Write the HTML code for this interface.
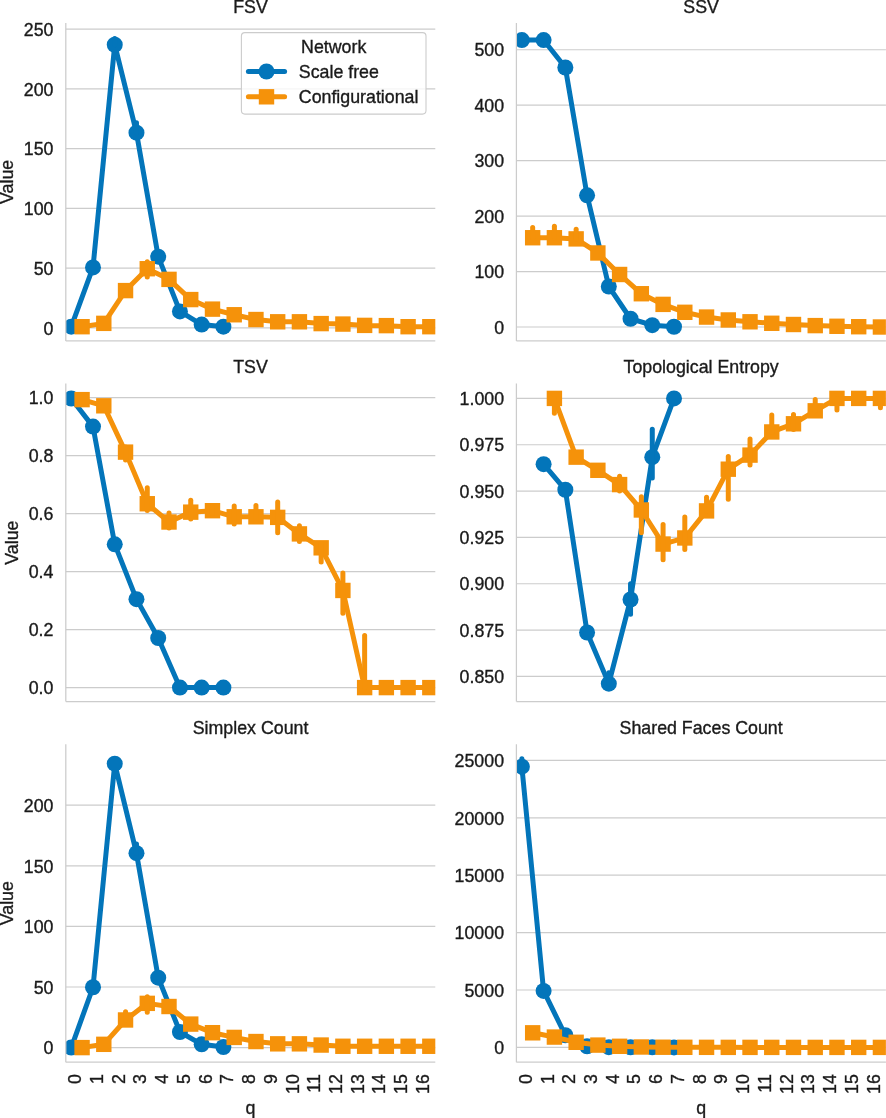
<!DOCTYPE html><html><head><meta charset="utf-8"><style>html,body{margin:0;padding:0;background:#fff;}svg{display:block;will-change:transform;}text{font-family:"Liberation Sans",sans-serif;fill:#1a1a1a;stroke:#1a1a1a;stroke-width:0.35px;}</style></head><body>
<svg width="886" height="1118" viewBox="0 0 886 1118">
<rect width="886" height="1118" fill="#fff"/>
<defs>
<clipPath id="c0"><rect x="65.80" y="22.90" width="369.50" height="318.00"/></clipPath>
<clipPath id="c1"><rect x="516.40" y="22.90" width="369.50" height="318.00"/></clipPath>
<clipPath id="c2"><rect x="65.80" y="383.60" width="369.50" height="318.00"/></clipPath>
<clipPath id="c3"><rect x="516.40" y="383.60" width="369.50" height="318.00"/></clipPath>
<clipPath id="c4"><rect x="65.80" y="744.20" width="369.50" height="318.00"/></clipPath>
<clipPath id="c5"><rect x="516.40" y="744.20" width="369.50" height="318.00"/></clipPath>
</defs>
<line x1="65.80" x2="435.30" y1="327.90" y2="327.90" stroke="#cccccc" stroke-width="1.2"/>
<text x="53.45" y="334.60" font-size="17.8" text-anchor="end">0</text>
<line x1="65.80" x2="435.30" y1="268.13" y2="268.13" stroke="#cccccc" stroke-width="1.2"/>
<text x="53.45" y="274.83" font-size="17.8" text-anchor="end">50</text>
<line x1="65.80" x2="435.30" y1="208.36" y2="208.36" stroke="#cccccc" stroke-width="1.2"/>
<text x="53.45" y="215.06" font-size="17.8" text-anchor="end">100</text>
<line x1="65.80" x2="435.30" y1="148.60" y2="148.60" stroke="#cccccc" stroke-width="1.2"/>
<text x="53.45" y="155.30" font-size="17.8" text-anchor="end">150</text>
<line x1="65.80" x2="435.30" y1="88.83" y2="88.83" stroke="#cccccc" stroke-width="1.2"/>
<text x="53.45" y="95.53" font-size="17.8" text-anchor="end">200</text>
<line x1="65.80" x2="435.30" y1="29.06" y2="29.06" stroke="#cccccc" stroke-width="1.2"/>
<text x="53.45" y="35.76" font-size="17.8" text-anchor="end">250</text>
<text x="250.55" y="12.70" font-size="17.8" text-anchor="middle">FSV</text>
<g clip-path="url(#c0)">
<path d="M71.27,326.70 L93.00,267.41 L114.74,44.72 L136.47,132.70 L158.21,256.66 L179.94,311.40 L201.68,324.55 L223.41,326.70" fill="none" stroke="#0375BA" stroke-width="5.0" stroke-linejoin="round" stroke-linecap="round"/>
<circle cx="71.27" cy="326.70" r="8.00" fill="#0375BA"/>
<circle cx="93.00" cy="267.41" r="8.00" fill="#0375BA"/>
<circle cx="114.74" cy="44.72" r="8.00" fill="#0375BA"/>
<circle cx="136.47" cy="132.70" r="8.00" fill="#0375BA"/>
<circle cx="158.21" cy="256.66" r="8.00" fill="#0375BA"/>
<circle cx="179.94" cy="311.40" r="8.00" fill="#0375BA"/>
<circle cx="201.68" cy="324.55" r="8.00" fill="#0375BA"/>
<circle cx="223.41" cy="326.70" r="8.00" fill="#0375BA"/>
<line x1="114.74" x2="114.74" y1="44.72" y2="38.62" stroke="#0375BA" stroke-width="5.0" stroke-linecap="round"/>
<line x1="136.47" x2="136.47" y1="132.70" y2="122.66" stroke="#0375BA" stroke-width="5.0" stroke-linecap="round"/>
<path d="M82.07,326.70 L103.80,323.36 L125.54,290.60 L147.27,268.73 L169.01,279.37 L190.74,299.57 L212.48,309.13 L234.21,314.75 L255.95,319.53 L277.69,321.80 L299.42,321.80 L321.16,323.60 L342.89,324.07 L364.63,325.39 L386.36,325.63 L408.10,326.70 L429.83,326.70" fill="none" stroke="#F5920A" stroke-width="5.0" stroke-linejoin="round" stroke-linecap="round"/>
<rect x="74.37" y="319.00" width="15.40" height="15.40" fill="#F5920A"/>
<rect x="96.10" y="315.66" width="15.40" height="15.40" fill="#F5920A"/>
<rect x="117.84" y="282.90" width="15.40" height="15.40" fill="#F5920A"/>
<rect x="139.57" y="261.03" width="15.40" height="15.40" fill="#F5920A"/>
<rect x="161.31" y="271.67" width="15.40" height="15.40" fill="#F5920A"/>
<rect x="183.04" y="291.87" width="15.40" height="15.40" fill="#F5920A"/>
<rect x="204.78" y="301.43" width="15.40" height="15.40" fill="#F5920A"/>
<rect x="226.51" y="307.05" width="15.40" height="15.40" fill="#F5920A"/>
<rect x="248.25" y="311.83" width="15.40" height="15.40" fill="#F5920A"/>
<rect x="269.99" y="314.10" width="15.40" height="15.40" fill="#F5920A"/>
<rect x="291.72" y="314.10" width="15.40" height="15.40" fill="#F5920A"/>
<rect x="313.46" y="315.90" width="15.40" height="15.40" fill="#F5920A"/>
<rect x="335.19" y="316.37" width="15.40" height="15.40" fill="#F5920A"/>
<rect x="356.93" y="317.69" width="15.40" height="15.40" fill="#F5920A"/>
<rect x="378.66" y="317.93" width="15.40" height="15.40" fill="#F5920A"/>
<rect x="400.40" y="319.00" width="15.40" height="15.40" fill="#F5920A"/>
<rect x="422.13" y="319.00" width="15.40" height="15.40" fill="#F5920A"/>
<line x1="147.27" x2="147.27" y1="277.10" y2="261.80" stroke="#F5920A" stroke-width="5.0" stroke-linecap="round"/>
</g>
<line x1="65.80" x2="65.80" y1="22.90" y2="340.90" stroke="#cccccc" stroke-width="1.25"/>
<line x1="65.80" x2="435.30" y1="340.90" y2="340.90" stroke="#cccccc" stroke-width="1.25"/>
<text transform="translate(12.60,181.90) rotate(-90)" font-size="17.8" text-anchor="middle">Value</text>
<line x1="516.40" x2="885.90" y1="327.00" y2="327.00" stroke="#cccccc" stroke-width="1.2"/>
<text x="504.05" y="333.70" font-size="17.8" text-anchor="end">0</text>
<line x1="516.40" x2="885.90" y1="271.55" y2="271.55" stroke="#cccccc" stroke-width="1.2"/>
<text x="504.05" y="278.25" font-size="17.8" text-anchor="end">100</text>
<line x1="516.40" x2="885.90" y1="216.10" y2="216.10" stroke="#cccccc" stroke-width="1.2"/>
<text x="504.05" y="222.80" font-size="17.8" text-anchor="end">200</text>
<line x1="516.40" x2="885.90" y1="160.65" y2="160.65" stroke="#cccccc" stroke-width="1.2"/>
<text x="504.05" y="167.35" font-size="17.8" text-anchor="end">300</text>
<line x1="516.40" x2="885.90" y1="105.20" y2="105.20" stroke="#cccccc" stroke-width="1.2"/>
<text x="504.05" y="111.90" font-size="17.8" text-anchor="end">400</text>
<line x1="516.40" x2="885.90" y1="49.75" y2="49.75" stroke="#cccccc" stroke-width="1.2"/>
<text x="504.05" y="56.45" font-size="17.8" text-anchor="end">500</text>
<text x="701.15" y="12.70" font-size="17.8" text-anchor="middle">SSV</text>
<g clip-path="url(#c1)">
<path d="M521.87,40.05 L543.60,40.05 L565.34,67.49 L587.07,195.31 L608.81,286.52 L630.54,318.74 L652.28,325.17 L674.01,326.72" fill="none" stroke="#0375BA" stroke-width="5.0" stroke-linejoin="round" stroke-linecap="round"/>
<circle cx="521.87" cy="40.05" r="8.00" fill="#0375BA"/>
<circle cx="543.60" cy="40.05" r="8.00" fill="#0375BA"/>
<circle cx="565.34" cy="67.49" r="8.00" fill="#0375BA"/>
<circle cx="587.07" cy="195.31" r="8.00" fill="#0375BA"/>
<circle cx="608.81" cy="286.52" r="8.00" fill="#0375BA"/>
<circle cx="630.54" cy="318.74" r="8.00" fill="#0375BA"/>
<circle cx="652.28" cy="325.17" r="8.00" fill="#0375BA"/>
<circle cx="674.01" cy="326.72" r="8.00" fill="#0375BA"/>
<path d="M532.67,237.73 L554.40,237.73 L576.14,238.89 L597.87,252.97 L619.61,274.49 L641.34,293.73 L663.08,304.38 L684.81,312.31 L706.55,317.07 L728.29,319.96 L750.02,321.79 L771.76,323.28 L793.49,324.50 L815.23,325.61 L836.96,326.28 L858.70,326.72 L880.43,327.00" fill="none" stroke="#F5920A" stroke-width="5.0" stroke-linejoin="round" stroke-linecap="round"/>
<rect x="524.97" y="230.03" width="15.40" height="15.40" fill="#F5920A"/>
<rect x="546.70" y="230.03" width="15.40" height="15.40" fill="#F5920A"/>
<rect x="568.44" y="231.19" width="15.40" height="15.40" fill="#F5920A"/>
<rect x="590.17" y="245.27" width="15.40" height="15.40" fill="#F5920A"/>
<rect x="611.91" y="266.79" width="15.40" height="15.40" fill="#F5920A"/>
<rect x="633.64" y="286.03" width="15.40" height="15.40" fill="#F5920A"/>
<rect x="655.38" y="296.68" width="15.40" height="15.40" fill="#F5920A"/>
<rect x="677.11" y="304.61" width="15.40" height="15.40" fill="#F5920A"/>
<rect x="698.85" y="309.37" width="15.40" height="15.40" fill="#F5920A"/>
<rect x="720.59" y="312.26" width="15.40" height="15.40" fill="#F5920A"/>
<rect x="742.32" y="314.09" width="15.40" height="15.40" fill="#F5920A"/>
<rect x="764.06" y="315.58" width="15.40" height="15.40" fill="#F5920A"/>
<rect x="785.79" y="316.80" width="15.40" height="15.40" fill="#F5920A"/>
<rect x="807.53" y="317.91" width="15.40" height="15.40" fill="#F5920A"/>
<rect x="829.26" y="318.58" width="15.40" height="15.40" fill="#F5920A"/>
<rect x="851.00" y="319.02" width="15.40" height="15.40" fill="#F5920A"/>
<rect x="872.73" y="319.30" width="15.40" height="15.40" fill="#F5920A"/>
<line x1="532.67" x2="532.67" y1="237.73" y2="227.47" stroke="#F5920A" stroke-width="5.0" stroke-linecap="round"/>
<line x1="554.40" x2="554.40" y1="237.73" y2="226.36" stroke="#F5920A" stroke-width="5.0" stroke-linecap="round"/>
<line x1="576.14" x2="576.14" y1="238.89" y2="229.13" stroke="#F5920A" stroke-width="5.0" stroke-linecap="round"/>
</g>
<line x1="516.40" x2="516.40" y1="22.90" y2="340.90" stroke="#cccccc" stroke-width="1.25"/>
<line x1="516.40" x2="885.90" y1="340.90" y2="340.90" stroke="#cccccc" stroke-width="1.25"/>
<line x1="65.80" x2="435.30" y1="687.60" y2="687.60" stroke="#cccccc" stroke-width="1.2"/>
<text x="53.45" y="694.30" font-size="17.8" text-anchor="end">0.0</text>
<line x1="65.80" x2="435.30" y1="629.60" y2="629.60" stroke="#cccccc" stroke-width="1.2"/>
<text x="53.45" y="636.30" font-size="17.8" text-anchor="end">0.2</text>
<line x1="65.80" x2="435.30" y1="571.60" y2="571.60" stroke="#cccccc" stroke-width="1.2"/>
<text x="53.45" y="578.30" font-size="17.8" text-anchor="end">0.4</text>
<line x1="65.80" x2="435.30" y1="513.60" y2="513.60" stroke="#cccccc" stroke-width="1.2"/>
<text x="53.45" y="520.30" font-size="17.8" text-anchor="end">0.6</text>
<line x1="65.80" x2="435.30" y1="455.60" y2="455.60" stroke="#cccccc" stroke-width="1.2"/>
<text x="53.45" y="462.30" font-size="17.8" text-anchor="end">0.8</text>
<line x1="65.80" x2="435.30" y1="397.60" y2="397.60" stroke="#cccccc" stroke-width="1.2"/>
<text x="53.45" y="404.30" font-size="17.8" text-anchor="end">1.0</text>
<text x="250.55" y="373.40" font-size="17.8" text-anchor="middle">TSV</text>
<g clip-path="url(#c2)">
<path d="M71.27,398.47 L93.00,426.60 L114.74,544.34 L136.47,599.15 L158.21,638.01 L179.94,687.60 L201.68,687.60 L223.41,687.60" fill="none" stroke="#0375BA" stroke-width="5.0" stroke-linejoin="round" stroke-linecap="round"/>
<circle cx="71.27" cy="398.47" r="8.00" fill="#0375BA"/>
<circle cx="93.00" cy="426.60" r="8.00" fill="#0375BA"/>
<circle cx="114.74" cy="544.34" r="8.00" fill="#0375BA"/>
<circle cx="136.47" cy="599.15" r="8.00" fill="#0375BA"/>
<circle cx="158.21" cy="638.01" r="8.00" fill="#0375BA"/>
<circle cx="179.94" cy="687.60" r="8.00" fill="#0375BA"/>
<circle cx="201.68" cy="687.60" r="8.00" fill="#0375BA"/>
<circle cx="223.41" cy="687.60" r="8.00" fill="#0375BA"/>
<path d="M82.07,399.63 L103.80,405.81 L125.54,452.12 L147.27,503.74 L169.01,522.01 L190.74,512.15 L212.48,510.70 L234.21,516.79 L255.95,516.79 L277.69,517.37 L299.42,533.90 L321.16,547.82 L342.89,590.45 L364.63,687.60 L386.36,687.60 L408.10,687.60 L429.83,687.60" fill="none" stroke="#F5920A" stroke-width="5.0" stroke-linejoin="round" stroke-linecap="round"/>
<rect x="74.37" y="391.93" width="15.40" height="15.40" fill="#F5920A"/>
<rect x="96.10" y="398.11" width="15.40" height="15.40" fill="#F5920A"/>
<rect x="117.84" y="444.42" width="15.40" height="15.40" fill="#F5920A"/>
<rect x="139.57" y="496.04" width="15.40" height="15.40" fill="#F5920A"/>
<rect x="161.31" y="514.31" width="15.40" height="15.40" fill="#F5920A"/>
<rect x="183.04" y="504.45" width="15.40" height="15.40" fill="#F5920A"/>
<rect x="204.78" y="503.00" width="15.40" height="15.40" fill="#F5920A"/>
<rect x="226.51" y="509.09" width="15.40" height="15.40" fill="#F5920A"/>
<rect x="248.25" y="509.09" width="15.40" height="15.40" fill="#F5920A"/>
<rect x="269.99" y="509.67" width="15.40" height="15.40" fill="#F5920A"/>
<rect x="291.72" y="526.20" width="15.40" height="15.40" fill="#F5920A"/>
<rect x="313.46" y="540.12" width="15.40" height="15.40" fill="#F5920A"/>
<rect x="335.19" y="582.75" width="15.40" height="15.40" fill="#F5920A"/>
<rect x="356.93" y="679.90" width="15.40" height="15.40" fill="#F5920A"/>
<rect x="378.66" y="679.90" width="15.40" height="15.40" fill="#F5920A"/>
<rect x="400.40" y="679.90" width="15.40" height="15.40" fill="#F5920A"/>
<rect x="422.13" y="679.90" width="15.40" height="15.40" fill="#F5920A"/>
<line x1="125.54" x2="125.54" y1="459.95" y2="446.90" stroke="#F5920A" stroke-width="5.0" stroke-linecap="round"/>
<line x1="147.27" x2="147.27" y1="510.41" y2="487.79" stroke="#F5920A" stroke-width="5.0" stroke-linecap="round"/>
<line x1="169.01" x2="169.01" y1="528.10" y2="513.02" stroke="#F5920A" stroke-width="5.0" stroke-linecap="round"/>
<line x1="190.74" x2="190.74" y1="519.11" y2="500.26" stroke="#F5920A" stroke-width="5.0" stroke-linecap="round"/>
<line x1="212.48" x2="212.48" y1="513.60" y2="507.80" stroke="#F5920A" stroke-width="5.0" stroke-linecap="round"/>
<line x1="234.21" x2="234.21" y1="524.04" y2="505.89" stroke="#F5920A" stroke-width="5.0" stroke-linecap="round"/>
<line x1="255.95" x2="255.95" y1="521.60" y2="505.60" stroke="#F5920A" stroke-width="5.0" stroke-linecap="round"/>
<line x1="277.69" x2="277.69" y1="532.74" y2="502.00" stroke="#F5920A" stroke-width="5.0" stroke-linecap="round"/>
<line x1="299.42" x2="299.42" y1="541.56" y2="525.78" stroke="#F5920A" stroke-width="5.0" stroke-linecap="round"/>
<line x1="321.16" x2="321.16" y1="561.91" y2="543.47" stroke="#F5920A" stroke-width="5.0" stroke-linecap="round"/>
<line x1="342.89" x2="342.89" y1="613.36" y2="573.05" stroke="#F5920A" stroke-width="5.0" stroke-linecap="round"/>
<line x1="364.63" x2="364.63" y1="687.60" y2="635.49" stroke="#F5920A" stroke-width="5.0" stroke-linecap="round"/>
</g>
<line x1="65.80" x2="65.80" y1="383.60" y2="701.60" stroke="#cccccc" stroke-width="1.25"/>
<line x1="65.80" x2="435.30" y1="701.60" y2="701.60" stroke="#cccccc" stroke-width="1.25"/>
<text transform="translate(17.60,542.60) rotate(-90)" font-size="17.8" text-anchor="middle">Value</text>
<line x1="516.40" x2="885.90" y1="676.40" y2="676.40" stroke="#cccccc" stroke-width="1.2"/>
<text x="504.05" y="683.10" font-size="17.8" text-anchor="end">0.850</text>
<line x1="516.40" x2="885.90" y1="630.07" y2="630.07" stroke="#cccccc" stroke-width="1.2"/>
<text x="504.05" y="636.77" font-size="17.8" text-anchor="end">0.875</text>
<line x1="516.40" x2="885.90" y1="583.73" y2="583.73" stroke="#cccccc" stroke-width="1.2"/>
<text x="504.05" y="590.43" font-size="17.8" text-anchor="end">0.900</text>
<line x1="516.40" x2="885.90" y1="537.40" y2="537.40" stroke="#cccccc" stroke-width="1.2"/>
<text x="504.05" y="544.10" font-size="17.8" text-anchor="end">0.925</text>
<line x1="516.40" x2="885.90" y1="491.07" y2="491.07" stroke="#cccccc" stroke-width="1.2"/>
<text x="504.05" y="497.77" font-size="17.8" text-anchor="end">0.950</text>
<line x1="516.40" x2="885.90" y1="444.73" y2="444.73" stroke="#cccccc" stroke-width="1.2"/>
<text x="504.05" y="451.43" font-size="17.8" text-anchor="end">0.975</text>
<line x1="516.40" x2="885.90" y1="398.40" y2="398.40" stroke="#cccccc" stroke-width="1.2"/>
<text x="504.05" y="405.10" font-size="17.8" text-anchor="end">1.000</text>
<text x="701.15" y="373.40" font-size="17.8" text-anchor="middle">Topological Entropy</text>
<g clip-path="url(#c3)">
<path d="M543.60,464.19 L565.34,489.77 L587.07,632.48 L608.81,683.63 L630.54,599.49 L652.28,457.15 L674.01,398.40" fill="none" stroke="#0375BA" stroke-width="5.0" stroke-linejoin="round" stroke-linecap="round"/>
<circle cx="543.60" cy="464.19" r="8.00" fill="#0375BA"/>
<circle cx="565.34" cy="489.77" r="8.00" fill="#0375BA"/>
<circle cx="587.07" cy="632.48" r="8.00" fill="#0375BA"/>
<circle cx="608.81" cy="683.63" r="8.00" fill="#0375BA"/>
<circle cx="630.54" cy="599.49" r="8.00" fill="#0375BA"/>
<circle cx="652.28" cy="457.15" r="8.00" fill="#0375BA"/>
<circle cx="674.01" cy="398.40" r="8.00" fill="#0375BA"/>
<line x1="608.81" x2="608.81" y1="683.63" y2="672.69" stroke="#0375BA" stroke-width="5.0" stroke-linecap="round"/>
<line x1="630.54" x2="630.54" y1="614.31" y2="583.73" stroke="#0375BA" stroke-width="5.0" stroke-linecap="round"/>
<line x1="652.28" x2="652.28" y1="478.09" y2="429.35" stroke="#0375BA" stroke-width="5.0" stroke-linecap="round"/>
<path d="M554.40,398.40 L576.14,457.15 L597.87,470.31 L619.61,484.58 L641.34,509.97 L663.08,544.07 L684.81,537.96 L706.55,510.90 L728.29,469.20 L750.02,455.11 L771.76,431.95 L793.49,423.79 L815.23,410.82 L836.96,398.40 L858.70,398.40 L880.43,398.40" fill="none" stroke="#F5920A" stroke-width="5.0" stroke-linejoin="round" stroke-linecap="round"/>
<rect x="546.70" y="390.70" width="15.40" height="15.40" fill="#F5920A"/>
<rect x="568.44" y="449.45" width="15.40" height="15.40" fill="#F5920A"/>
<rect x="590.17" y="462.61" width="15.40" height="15.40" fill="#F5920A"/>
<rect x="611.91" y="476.88" width="15.40" height="15.40" fill="#F5920A"/>
<rect x="633.64" y="502.27" width="15.40" height="15.40" fill="#F5920A"/>
<rect x="655.38" y="536.37" width="15.40" height="15.40" fill="#F5920A"/>
<rect x="677.11" y="530.26" width="15.40" height="15.40" fill="#F5920A"/>
<rect x="698.85" y="503.20" width="15.40" height="15.40" fill="#F5920A"/>
<rect x="720.59" y="461.50" width="15.40" height="15.40" fill="#F5920A"/>
<rect x="742.32" y="447.41" width="15.40" height="15.40" fill="#F5920A"/>
<rect x="764.06" y="424.25" width="15.40" height="15.40" fill="#F5920A"/>
<rect x="785.79" y="416.09" width="15.40" height="15.40" fill="#F5920A"/>
<rect x="807.53" y="403.12" width="15.40" height="15.40" fill="#F5920A"/>
<rect x="829.26" y="390.70" width="15.40" height="15.40" fill="#F5920A"/>
<rect x="851.00" y="390.70" width="15.40" height="15.40" fill="#F5920A"/>
<rect x="872.73" y="390.70" width="15.40" height="15.40" fill="#F5920A"/>
<line x1="554.40" x2="554.40" y1="413.23" y2="398.40" stroke="#F5920A" stroke-width="5.0" stroke-linecap="round"/>
<line x1="619.61" x2="619.61" y1="491.07" y2="476.24" stroke="#F5920A" stroke-width="5.0" stroke-linecap="round"/>
<line x1="641.34" x2="641.34" y1="532.77" y2="496.63" stroke="#F5920A" stroke-width="5.0" stroke-linecap="round"/>
<line x1="663.08" x2="663.08" y1="559.64" y2="524.43" stroke="#F5920A" stroke-width="5.0" stroke-linecap="round"/>
<line x1="684.81" x2="684.81" y1="549.45" y2="517.01" stroke="#F5920A" stroke-width="5.0" stroke-linecap="round"/>
<line x1="706.55" x2="706.55" y1="510.90" y2="497.18" stroke="#F5920A" stroke-width="5.0" stroke-linecap="round"/>
<line x1="728.29" x2="728.29" y1="499.22" y2="456.41" stroke="#F5920A" stroke-width="5.0" stroke-linecap="round"/>
<line x1="750.02" x2="750.02" y1="465.12" y2="438.99" stroke="#F5920A" stroke-width="5.0" stroke-linecap="round"/>
<line x1="771.76" x2="771.76" y1="431.95" y2="415.08" stroke="#F5920A" stroke-width="5.0" stroke-linecap="round"/>
<line x1="793.49" x2="793.49" y1="429.54" y2="414.52" stroke="#F5920A" stroke-width="5.0" stroke-linecap="round"/>
<line x1="815.23" x2="815.23" y1="410.82" y2="399.51" stroke="#F5920A" stroke-width="5.0" stroke-linecap="round"/>
<line x1="836.96" x2="836.96" y1="409.89" y2="398.40" stroke="#F5920A" stroke-width="5.0" stroke-linecap="round"/>
<line x1="880.43" x2="880.43" y1="407.85" y2="398.40" stroke="#F5920A" stroke-width="5.0" stroke-linecap="round"/>
</g>
<line x1="516.40" x2="516.40" y1="383.60" y2="701.60" stroke="#cccccc" stroke-width="1.25"/>
<line x1="516.40" x2="885.90" y1="701.60" y2="701.60" stroke="#cccccc" stroke-width="1.25"/>
<line x1="65.80" x2="435.30" y1="1047.60" y2="1047.60" stroke="#cccccc" stroke-width="1.2"/>
<text x="53.45" y="1054.30" font-size="17.8" text-anchor="end">0</text>
<line x1="65.80" x2="435.30" y1="987.00" y2="987.00" stroke="#cccccc" stroke-width="1.2"/>
<text x="53.45" y="993.70" font-size="17.8" text-anchor="end">50</text>
<line x1="65.80" x2="435.30" y1="926.40" y2="926.40" stroke="#cccccc" stroke-width="1.2"/>
<text x="53.45" y="933.10" font-size="17.8" text-anchor="end">100</text>
<line x1="65.80" x2="435.30" y1="865.80" y2="865.80" stroke="#cccccc" stroke-width="1.2"/>
<text x="53.45" y="872.50" font-size="17.8" text-anchor="end">150</text>
<line x1="65.80" x2="435.30" y1="805.20" y2="805.20" stroke="#cccccc" stroke-width="1.2"/>
<text x="53.45" y="811.90" font-size="17.8" text-anchor="end">200</text>
<text x="250.55" y="734.00" font-size="17.8" text-anchor="middle">Simplex Count</text>
<g clip-path="url(#c4)">
<path d="M71.27,1047.60 L93.00,987.24 L114.74,763.63 L136.47,853.20 L158.21,977.67 L179.94,1031.97 L201.68,1044.33 L223.41,1046.99" fill="none" stroke="#0375BA" stroke-width="5.0" stroke-linejoin="round" stroke-linecap="round"/>
<circle cx="71.27" cy="1047.60" r="8.00" fill="#0375BA"/>
<circle cx="93.00" cy="987.24" r="8.00" fill="#0375BA"/>
<circle cx="114.74" cy="763.63" r="8.00" fill="#0375BA"/>
<circle cx="136.47" cy="853.20" r="8.00" fill="#0375BA"/>
<circle cx="158.21" cy="977.67" r="8.00" fill="#0375BA"/>
<circle cx="179.94" cy="1031.97" r="8.00" fill="#0375BA"/>
<circle cx="201.68" cy="1044.33" r="8.00" fill="#0375BA"/>
<circle cx="223.41" cy="1046.99" r="8.00" fill="#0375BA"/>
<line x1="136.47" x2="136.47" y1="853.20" y2="843.98" stroke="#0375BA" stroke-width="5.0" stroke-linecap="round"/>
<path d="M82.07,1047.60 L103.80,1044.33 L125.54,1019.97 L147.27,1003.36 L169.01,1006.51 L190.74,1024.09 L212.48,1032.69 L234.21,1037.42 L255.95,1041.54 L277.69,1043.84 L299.42,1043.84 L321.16,1045.05 L342.89,1046.27 L364.63,1046.27 L386.36,1046.27 L408.10,1046.27 L429.83,1046.27" fill="none" stroke="#F5920A" stroke-width="5.0" stroke-linejoin="round" stroke-linecap="round"/>
<rect x="74.37" y="1039.90" width="15.40" height="15.40" fill="#F5920A"/>
<rect x="96.10" y="1036.63" width="15.40" height="15.40" fill="#F5920A"/>
<rect x="117.84" y="1012.27" width="15.40" height="15.40" fill="#F5920A"/>
<rect x="139.57" y="995.66" width="15.40" height="15.40" fill="#F5920A"/>
<rect x="161.31" y="998.81" width="15.40" height="15.40" fill="#F5920A"/>
<rect x="183.04" y="1016.39" width="15.40" height="15.40" fill="#F5920A"/>
<rect x="204.78" y="1024.99" width="15.40" height="15.40" fill="#F5920A"/>
<rect x="226.51" y="1029.72" width="15.40" height="15.40" fill="#F5920A"/>
<rect x="248.25" y="1033.84" width="15.40" height="15.40" fill="#F5920A"/>
<rect x="269.99" y="1036.14" width="15.40" height="15.40" fill="#F5920A"/>
<rect x="291.72" y="1036.14" width="15.40" height="15.40" fill="#F5920A"/>
<rect x="313.46" y="1037.35" width="15.40" height="15.40" fill="#F5920A"/>
<rect x="335.19" y="1038.57" width="15.40" height="15.40" fill="#F5920A"/>
<rect x="356.93" y="1038.57" width="15.40" height="15.40" fill="#F5920A"/>
<rect x="378.66" y="1038.57" width="15.40" height="15.40" fill="#F5920A"/>
<rect x="400.40" y="1038.57" width="15.40" height="15.40" fill="#F5920A"/>
<rect x="422.13" y="1038.57" width="15.40" height="15.40" fill="#F5920A"/>
<line x1="125.54" x2="125.54" y1="1019.97" y2="1011.72" stroke="#F5920A" stroke-width="5.0" stroke-linecap="round"/>
<line x1="147.27" x2="147.27" y1="1012.21" y2="996.70" stroke="#F5920A" stroke-width="5.0" stroke-linecap="round"/>
</g>
<line x1="65.80" x2="65.80" y1="744.20" y2="1062.20" stroke="#cccccc" stroke-width="1.25"/>
<line x1="65.80" x2="435.30" y1="1062.20" y2="1062.20" stroke="#cccccc" stroke-width="1.25"/>
<text transform="translate(12.60,903.20) rotate(-90)" font-size="17.8" text-anchor="middle">Value</text>
<text transform="translate(81.17,1074.20) rotate(-90)" font-size="17.8" text-anchor="end">0</text>
<text transform="translate(102.90,1074.20) rotate(-90)" font-size="17.8" text-anchor="end">1</text>
<text transform="translate(124.64,1074.20) rotate(-90)" font-size="17.8" text-anchor="end">2</text>
<text transform="translate(146.37,1074.20) rotate(-90)" font-size="17.8" text-anchor="end">3</text>
<text transform="translate(168.11,1074.20) rotate(-90)" font-size="17.8" text-anchor="end">4</text>
<text transform="translate(189.84,1074.20) rotate(-90)" font-size="17.8" text-anchor="end">5</text>
<text transform="translate(211.58,1074.20) rotate(-90)" font-size="17.8" text-anchor="end">6</text>
<text transform="translate(233.31,1074.20) rotate(-90)" font-size="17.8" text-anchor="end">7</text>
<text transform="translate(255.05,1074.20) rotate(-90)" font-size="17.8" text-anchor="end">8</text>
<text transform="translate(276.79,1074.20) rotate(-90)" font-size="17.8" text-anchor="end">9</text>
<text transform="translate(298.52,1074.20) rotate(-90)" font-size="17.8" text-anchor="end">10</text>
<text transform="translate(320.26,1074.20) rotate(-90)" font-size="17.8" text-anchor="end">11</text>
<text transform="translate(341.99,1074.20) rotate(-90)" font-size="17.8" text-anchor="end">12</text>
<text transform="translate(363.73,1074.20) rotate(-90)" font-size="17.8" text-anchor="end">13</text>
<text transform="translate(385.46,1074.20) rotate(-90)" font-size="17.8" text-anchor="end">14</text>
<text transform="translate(407.20,1074.20) rotate(-90)" font-size="17.8" text-anchor="end">15</text>
<text transform="translate(428.93,1074.20) rotate(-90)" font-size="17.8" text-anchor="end">16</text>
<text x="250.55" y="1114.4" font-size="17.8" text-anchor="middle">q</text>
<line x1="516.40" x2="885.90" y1="1047.40" y2="1047.40" stroke="#cccccc" stroke-width="1.2"/>
<text x="504.05" y="1054.10" font-size="17.8" text-anchor="end">0</text>
<line x1="516.40" x2="885.90" y1="990.00" y2="990.00" stroke="#cccccc" stroke-width="1.2"/>
<text x="504.05" y="996.70" font-size="17.8" text-anchor="end">5000</text>
<line x1="516.40" x2="885.90" y1="932.60" y2="932.60" stroke="#cccccc" stroke-width="1.2"/>
<text x="504.05" y="939.30" font-size="17.8" text-anchor="end">10000</text>
<line x1="516.40" x2="885.90" y1="875.20" y2="875.20" stroke="#cccccc" stroke-width="1.2"/>
<text x="504.05" y="881.90" font-size="17.8" text-anchor="end">15000</text>
<line x1="516.40" x2="885.90" y1="817.80" y2="817.80" stroke="#cccccc" stroke-width="1.2"/>
<text x="504.05" y="824.50" font-size="17.8" text-anchor="end">20000</text>
<line x1="516.40" x2="885.90" y1="760.40" y2="760.40" stroke="#cccccc" stroke-width="1.2"/>
<text x="504.05" y="767.10" font-size="17.8" text-anchor="end">25000</text>
<text x="701.15" y="734.00" font-size="17.8" text-anchor="middle">Shared Faces Count</text>
<g clip-path="url(#c5)">
<path d="M521.87,766.71 L543.60,990.92 L565.34,1035.23 L587.07,1046.25 L608.81,1047.17 L630.54,1047.29 L652.28,1047.34 L674.01,1047.40" fill="none" stroke="#0375BA" stroke-width="5.0" stroke-linejoin="round" stroke-linecap="round"/>
<circle cx="521.87" cy="766.71" r="8.00" fill="#0375BA"/>
<circle cx="543.60" cy="990.92" r="8.00" fill="#0375BA"/>
<circle cx="565.34" cy="1035.23" r="8.00" fill="#0375BA"/>
<circle cx="587.07" cy="1046.25" r="8.00" fill="#0375BA"/>
<circle cx="608.81" cy="1047.17" r="8.00" fill="#0375BA"/>
<circle cx="630.54" cy="1047.29" r="8.00" fill="#0375BA"/>
<circle cx="652.28" cy="1047.34" r="8.00" fill="#0375BA"/>
<circle cx="674.01" cy="1047.40" r="8.00" fill="#0375BA"/>
<line x1="521.87" x2="521.87" y1="773.03" y2="758.68" stroke="#0375BA" stroke-width="5.0" stroke-linecap="round"/>
<path d="M532.67,1032.82 L554.40,1037.07 L576.14,1042.29 L597.87,1045.10 L619.61,1046.30 L641.34,1047.00 L663.08,1047.23 L684.81,1047.31 L706.55,1047.34 L728.29,1047.37 L750.02,1047.38 L771.76,1047.39 L793.49,1047.39 L815.23,1047.40 L836.96,1047.40 L858.70,1047.40 L880.43,1047.40" fill="none" stroke="#F5920A" stroke-width="5.0" stroke-linejoin="round" stroke-linecap="round"/>
<rect x="524.97" y="1025.12" width="15.40" height="15.40" fill="#F5920A"/>
<rect x="546.70" y="1029.37" width="15.40" height="15.40" fill="#F5920A"/>
<rect x="568.44" y="1034.59" width="15.40" height="15.40" fill="#F5920A"/>
<rect x="590.17" y="1037.40" width="15.40" height="15.40" fill="#F5920A"/>
<rect x="611.91" y="1038.60" width="15.40" height="15.40" fill="#F5920A"/>
<rect x="633.64" y="1039.30" width="15.40" height="15.40" fill="#F5920A"/>
<rect x="655.38" y="1039.53" width="15.40" height="15.40" fill="#F5920A"/>
<rect x="677.11" y="1039.61" width="15.40" height="15.40" fill="#F5920A"/>
<rect x="698.85" y="1039.64" width="15.40" height="15.40" fill="#F5920A"/>
<rect x="720.59" y="1039.67" width="15.40" height="15.40" fill="#F5920A"/>
<rect x="742.32" y="1039.68" width="15.40" height="15.40" fill="#F5920A"/>
<rect x="764.06" y="1039.69" width="15.40" height="15.40" fill="#F5920A"/>
<rect x="785.79" y="1039.69" width="15.40" height="15.40" fill="#F5920A"/>
<rect x="807.53" y="1039.70" width="15.40" height="15.40" fill="#F5920A"/>
<rect x="829.26" y="1039.70" width="15.40" height="15.40" fill="#F5920A"/>
<rect x="851.00" y="1039.70" width="15.40" height="15.40" fill="#F5920A"/>
<rect x="872.73" y="1039.70" width="15.40" height="15.40" fill="#F5920A"/>
</g>
<line x1="516.40" x2="516.40" y1="744.20" y2="1062.20" stroke="#cccccc" stroke-width="1.25"/>
<line x1="516.40" x2="885.90" y1="1062.20" y2="1062.20" stroke="#cccccc" stroke-width="1.25"/>
<text transform="translate(531.77,1074.20) rotate(-90)" font-size="17.8" text-anchor="end">0</text>
<text transform="translate(553.50,1074.20) rotate(-90)" font-size="17.8" text-anchor="end">1</text>
<text transform="translate(575.24,1074.20) rotate(-90)" font-size="17.8" text-anchor="end">2</text>
<text transform="translate(596.97,1074.20) rotate(-90)" font-size="17.8" text-anchor="end">3</text>
<text transform="translate(618.71,1074.20) rotate(-90)" font-size="17.8" text-anchor="end">4</text>
<text transform="translate(640.44,1074.20) rotate(-90)" font-size="17.8" text-anchor="end">5</text>
<text transform="translate(662.18,1074.20) rotate(-90)" font-size="17.8" text-anchor="end">6</text>
<text transform="translate(683.91,1074.20) rotate(-90)" font-size="17.8" text-anchor="end">7</text>
<text transform="translate(705.65,1074.20) rotate(-90)" font-size="17.8" text-anchor="end">8</text>
<text transform="translate(727.39,1074.20) rotate(-90)" font-size="17.8" text-anchor="end">9</text>
<text transform="translate(749.12,1074.20) rotate(-90)" font-size="17.8" text-anchor="end">10</text>
<text transform="translate(770.86,1074.20) rotate(-90)" font-size="17.8" text-anchor="end">11</text>
<text transform="translate(792.59,1074.20) rotate(-90)" font-size="17.8" text-anchor="end">12</text>
<text transform="translate(814.33,1074.20) rotate(-90)" font-size="17.8" text-anchor="end">13</text>
<text transform="translate(836.06,1074.20) rotate(-90)" font-size="17.8" text-anchor="end">14</text>
<text transform="translate(857.80,1074.20) rotate(-90)" font-size="17.8" text-anchor="end">15</text>
<text transform="translate(879.53,1074.20) rotate(-90)" font-size="17.8" text-anchor="end">16</text>
<text x="701.15" y="1114.4" font-size="17.8" text-anchor="middle">q</text>
<rect x="241.40" y="32.60" width="184.60" height="81.50" rx="3.5" fill="#fff" fill-opacity="0.8" stroke="#cccccc" stroke-width="1.1"/>
<text x="333.70" y="52.5" font-size="17.8" text-anchor="middle">Network</text>
<line x1="248.4" x2="284.6" y1="71.5" y2="71.5" stroke="#0375BA" stroke-width="5.0" stroke-linecap="round"/>
<circle cx="266.5" cy="71.5" r="8.00" fill="#0375BA"/>
<text x="298.8" y="77.50" font-size="17.8">Scale free</text>
<line x1="248.4" x2="284.6" y1="96.8" y2="96.8" stroke="#F5920A" stroke-width="5.0" stroke-linecap="round"/>
<rect x="258.80" y="89.10" width="15.40" height="15.40" fill="#F5920A"/>
<text x="298.8" y="102.80" font-size="17.8">Configurational</text>
</svg></body></html>
